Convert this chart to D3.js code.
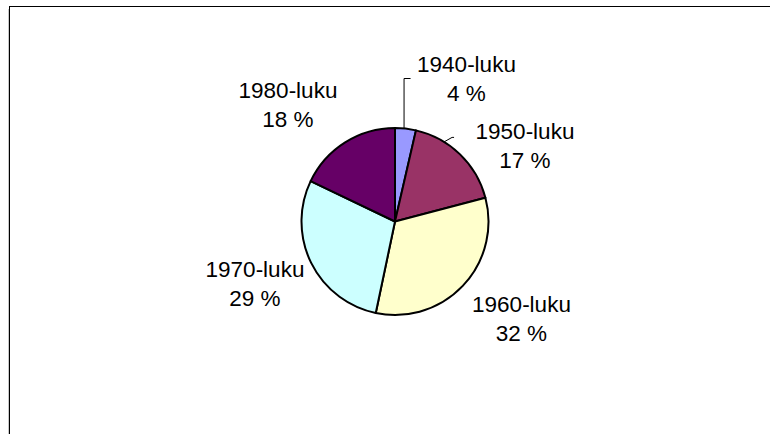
<!DOCTYPE html>
<html>
<head>
<meta charset="utf-8">
<script src="https://cdn.jsdelivr.net/npm/d3@7"></script>
<style>
  html, body { margin: 0; padding: 0; background: #fff; }
  svg { display: block; }
  text { font-family: "Liberation Sans", Arial, sans-serif; fill: #000; }
</style>
</head>
<body>
<svg id="chart" width="770" height="434"></svg>
<script>
// ---- data ----
const categories = ["1940-luku", "1950-luku", "1960-luku", "1970-luku", "1980-luku"];
const values = [3.6, 17.3, 32.4, 28.8, 17.9];
const colors = ["#9999FF", "#993366", "#FFFFCC", "#CCFFFF", "#660066"];

// ---- layout ----
const W = 770, H = 434;
const cx = 395, cy = 221.5, R = 93.5;
// label anchor points (center x, first baseline y)
const labelPos = [
  [466.5, 72], [525, 139], [521.5, 311.5], [255, 276.5], [288, 97.5]
];
const lineGap = 29;

const svg = d3.select("#chart");

// frame (Excel chart area, extends past the viewport)
svg.append("line").attr("x1", 8.5).attr("x2", 8.5).attr("y1", 9).attr("y2", H)
  .attr("stroke", "#c8c8c8").attr("stroke-width", 1);
svg.append("rect").attr("x", 9.5).attr("y", 6.5).attr("width", W + 20).attr("height", H + 20)
  .attr("fill", "none").attr("stroke", "#000").attr("stroke-width", 1);

const total = d3.sum(values);
const pie = d3.pie().sort(null).value(d => d);
const arcs = pie(values);
const arc = d3.arc().innerRadius(0).outerRadius(R);

const g = svg.append("g").attr("transform", `translate(${cx},${cy})`);
g.selectAll("path.slice").data(arcs).enter().append("path")
  .attr("class", "slice")
  .attr("d", arc)
  .attr("fill", (d, i) => colors[i])
  .attr("stroke", "#000")
  .attr("stroke-width", 2)
  .attr("stroke-linejoin", "round");

// leader lines for the two small slices near the top
function edgePoint(d) {
  const a = (d.startAngle + d.endAngle) / 2;
  return [R * Math.sin(a), -R * Math.cos(a)];
}
// 1940-luku: vertical then short horizontal
{
  const p = edgePoint(arcs[0]);
  const x = cx + p[0] - 2, yTop = 78;
  svg.append("path")
    .attr("d", `M${x + 0.5},${cy + p[1]} L${x + 0.5},${yTop + 0.5} L${x + 7},${yTop + 0.5}`)
    .attr("fill", "none").attr("stroke", "#000").attr("stroke-width", 1);
}
// 1950-luku: short diagonal + tick
{
  const a = arcs[1].startAngle + (arcs[1].endAngle - arcs[1].startAngle) * 0.3;
  const ex = cx + R * Math.sin(a), ey = cy - R * Math.cos(a);
  svg.append("path")
    .attr("d", `M${ex},${ey} L${ex + 8},${ey - 4.5} L${ex + 10},${ey - 4.5}`)
    .attr("fill", "none").attr("stroke", "#000").attr("stroke-width", 1);
}

// labels
const fmt = v => Math.round(v / total * 100) + " %";
const labels = svg.selectAll("text.lbl").data(arcs).enter().append("text")
  .attr("class", "lbl")
  .attr("text-anchor", "middle")
  .style("font-size", "22.5px");
labels.append("tspan")
  .attr("x", (d, i) => labelPos[i][0])
  .attr("y", (d, i) => labelPos[i][1])
  .text((d, i) => categories[i]);
labels.append("tspan")
  .attr("x", (d, i) => labelPos[i][0])
  .attr("y", (d, i) => labelPos[i][1] + lineGap)
  .text(d => fmt(d.value));
</script>
</body>
</html>
